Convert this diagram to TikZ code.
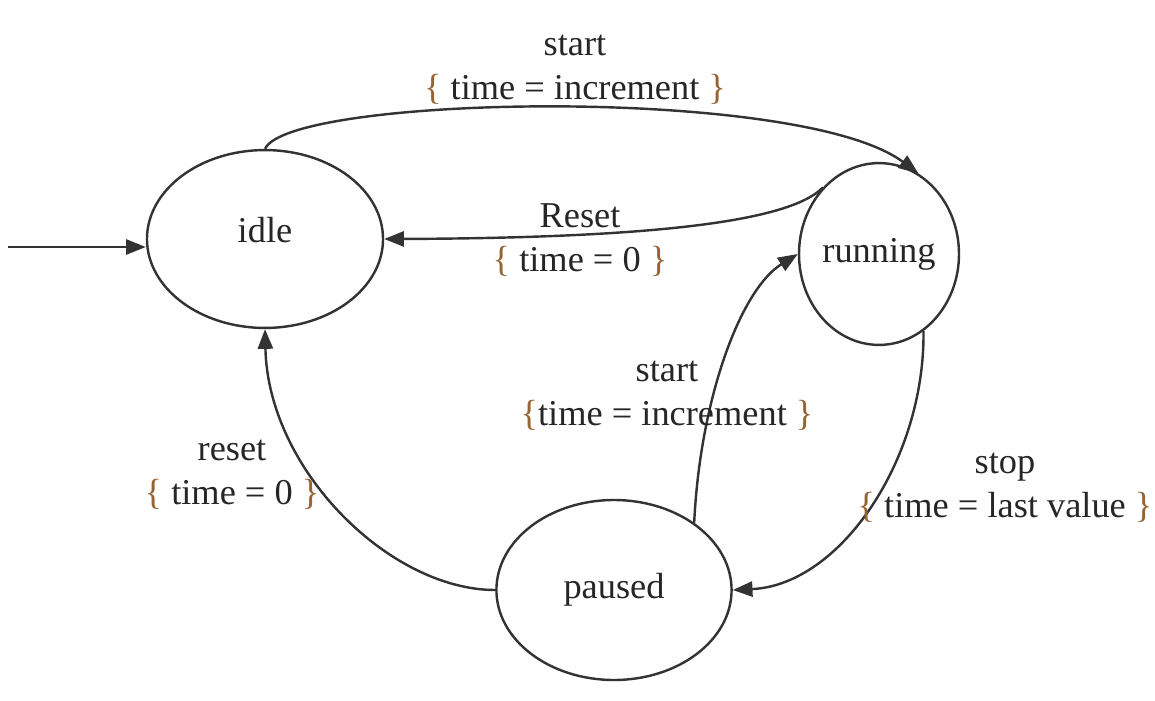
\documentclass[tikz,border=0pt]{standalone}
\usepackage{fontspec}
\setmainfont{Liberation Serif}
\usepackage{xcolor}
\usetikzlibrary{arrows.meta}
\usetikzlibrary{shapes.geometric}

\definecolor{bracecol}{RGB}{150,100,50}
\newcommand{\lbr}{\textcolor{bracecol}{\{}}
\newcommand{\rbr}{\textcolor{bracecol}{\}}}

\tikzset{
  state/.style={ellipse, draw=black!80, line width=0.8pt, inner sep=0pt, text=black!85, font=\fontsize{12}{14.5}\selectfont},
  trans/.style={draw=black!80, line width=0.8pt, -{Triangle[length=6.5pt,width=5pt]}},
  lbl/.style={align=center, inner sep=0pt, text=black!85, font=\fontsize{12}{14.5}\selectfont}
}

\begin{document}
\begin{tikzpicture}[x=0.33pt, y=-0.33pt]
      \useasboundingbox (0,0) rectangle (1155,700);

      \node[state, minimum width=77.9pt, minimum height=58.7pt] (idle) at (265,239) {\raisebox{6pt}{idle}};
      \node[state, minimum width=50.8pt, minimum height=60pt] (running) at (879,254) {running};
      \node[state, minimum width=77.6pt, minimum height=59.4pt] (paused) at (614,590) {paused};

      \coordinate (init) at (8,247);
      \draw[trans] (init) -- (idle.west |- init);

      \draw[trans] (idle.north) .. controls (290,95) and (800,85) .. (running.64);
      \node[lbl] (lstart) at (575,70) {start\\ \lbr{} time = increment \rbr};

      \draw[trans] (running.130) .. controls (790,222) and (650,238) .. (idle.east);
      \node[lbl] (lreset) at (580,240) {Reset\\ \lbr{} time = 0 \rbr};

      \draw[trans] (paused.40) .. controls (700,400) and (740,290) .. (running.west);
      \node[lbl] (lresume) at (667,396) {start\\ \lbr{}time = increment \rbr};

      \draw[trans] (running.-60) .. controls (925,460) and (840,585) .. (paused.east);
      \node[lbl] (lstop) at (1005,488) {stop\\ \lbr{} time = last value \rbr};

      \draw[trans] (paused.west) .. controls (390,590) and (268,470) .. (idle.south);
      \node[lbl] (lback) at (232,475) {reset\\ \lbr{} time = 0 \rbr};
    \end{tikzpicture}
\end{document}
